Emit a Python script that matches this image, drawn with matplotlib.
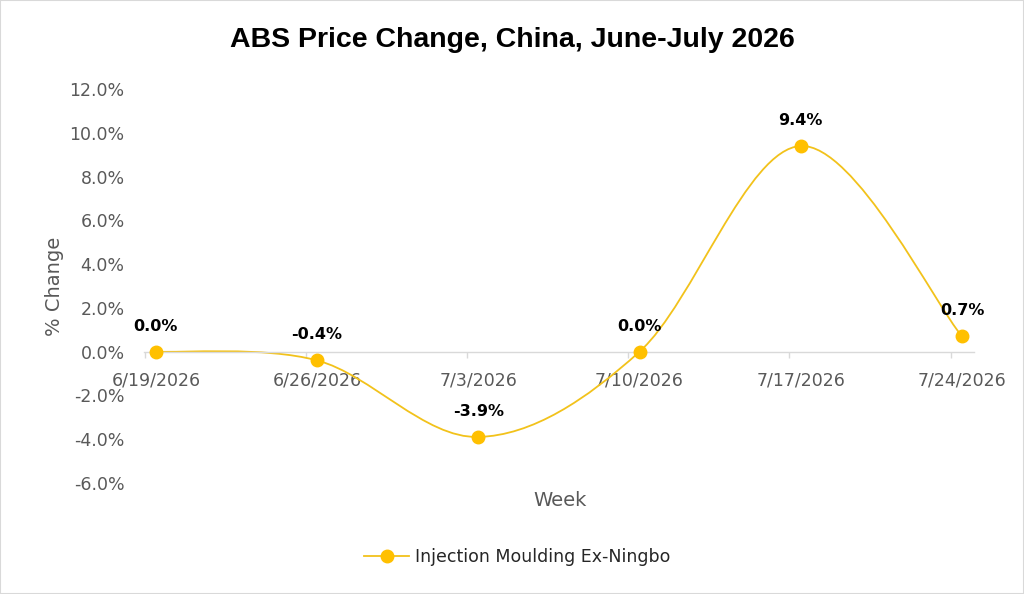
import numpy as np
import matplotlib.pyplot as plt
from matplotlib.path import Path
from matplotlib.patches import PathPatch, Rectangle
from matplotlib.lines import Line2D

weeks = ["6/19/2026", "6/26/2026", "7/3/2026", "7/10/2026", "7/17/2026", "7/24/2026"]
change = [0.0, -0.4, -3.9, 0.0, 9.4, 0.7]
series_name = "Injection Moulding Ex-Ningbo"
y_ticks = [-6, -4, -2, 0, 2, 4, 6, 8, 10, 12]

GOLD = "#FFC000"
LINE = "#F2C21B"
GREY = "#595959"

plt.rcParams['font.family'] = ['DejaVu Sans']

fig = plt.figure(figsize=(10.24, 5.94), dpi=100)
fig.patches.append(Rectangle((0, 0), 1, 1, transform=fig.transFigure, fill=False,
                             edgecolor="#D9D9D9", linewidth=1.5))
ax = fig.add_axes([0.1406, 0.187, 0.8105, 0.663])

x = np.arange(len(weeks))
y = np.array(change)

# smoothed line like Excel (Catmull-Rom as cubic Bezier segments)
verts = [(x[0], y[0])]
codes = [Path.MOVETO]
n = len(x)
for i in range(n - 1):
    p0 = np.array([x[max(i - 1, 0)], y[max(i - 1, 0)]])
    p1 = np.array([x[i], y[i]])
    p2 = np.array([x[i + 1], y[i + 1]])
    p3 = np.array([x[min(i + 2, n - 1)], y[min(i + 2, n - 1)]])
    c1 = p1 + (p2 - p0) / 6
    c2 = p2 - (p3 - p1) / 6
    verts += [tuple(c1), tuple(c2), tuple(p2)]
    codes += [Path.CURVE4] * 3
ax.add_patch(PathPatch(Path(verts, codes), facecolor="none", edgecolor=LINE,
                       linewidth=1.3, zorder=2))
ax.plot(x, y, linestyle="none", marker="o", markersize=9, color=GOLD, zorder=3)

for xi, yi in zip(x, y):
    ax.annotate(f"{yi:.1f}%", (xi, yi), xytext=(0, 13), textcoords="offset points",
                ha="center", va="bottom", fontsize=11.5, fontweight="bold", color="black")

ax.set_xlim(-0.074, 5.074)
ax.set_ylim(-6, 12)
ax.set_yticks(y_ticks)
ax.set_yticklabels([f"{v:.1f}%" for v in y_ticks])
ax.set_xticks(x)
ax.set_xticklabels(weeks)
ax.set_xticks(x - 0.07, minor=True)

for s in ["top", "right", "left"]:
    ax.spines[s].set_visible(False)
ax.spines["bottom"].set_position(("data", 0))
ax.spines["bottom"].set_color("#D9D9D9")
ax.spines["bottom"].set_linewidth(1)

ax.tick_params(axis="y", length=0, labelsize=12.5, labelcolor=GREY, pad=14)
ax.tick_params(axis="x", which="major", length=0, labelsize=12.5, labelcolor=GREY, pad=14)
ax.tick_params(axis="x", which="minor", length=4, width=1, color="#D9D9D9", direction="out")

ax.set_ylabel("% Change", fontsize=14, color=GREY, labelpad=4)
fig.text(0.547, 0.157, "Week", fontsize=14, color=GREY, ha="center", va="center")

fig.text(0.5, 0.933, "ABS Price Change, China, June-July 2026", fontsize=20.5,
         fontweight="bold", ha="center", va="center",
         family=['Liberation Sans', 'DejaVu Sans'])

handle = Line2D([], [], color=LINE, marker="o", markersize=9, markerfacecolor=GOLD,
                markeredgecolor=GOLD, linewidth=1.3)
fig.legend([handle], [series_name], loc="center", bbox_to_anchor=(0.505, 0.062),
           frameon=False, fontsize=12.5, handlelength=2.6, handletextpad=0.3,
           labelcolor="#262626")

fig.savefig("out.png", dpi=100)
